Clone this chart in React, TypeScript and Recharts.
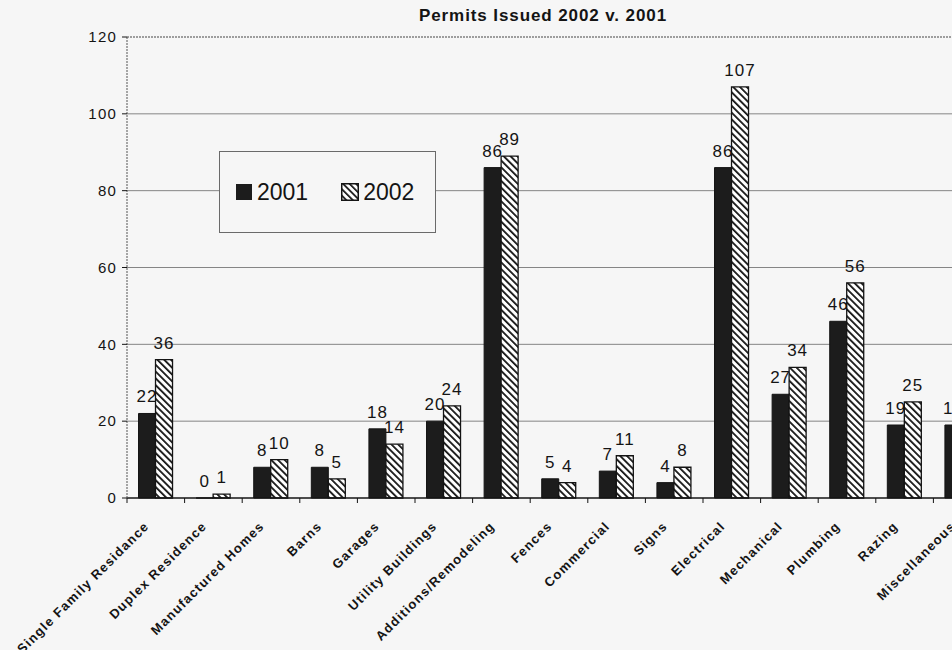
import React from 'react';
import { BarChart, Bar, XAxis, YAxis, CartesianGrid, Legend, LabelList, ReferenceLine } from 'recharts';

// permit counts by category, two years side by side
const categories = [
    'Single Family Residance',
    'Duplex Residence',
    'Manufactured Homes',
    'Barns',
    'Garages',
    'Utility Buildings',
    'Additions/Remodeling',
    'Fences',
    'Commercial',
    'Signs',
    'Electrical',
    'Mechanical',
    'Plumbing',
    'Razing',
    'Miscellaneous',
];
const permits2001 = [22, 0, 8, 8, 18, 20, 86, 5, 7, 4, 86, 27, 46, 19, 19];
const permits2002 = [36, 1, 10, 5, 14, 24, 89, 4, 11, 8, 107, 34, 56, 25, 21];
const yTicks = [0, 20, 40, 60, 80, 100, 120];
const gridValues = [20, 40, 60, 80, 100];

const data = categories.map((name, i) => ({ name, y2001: permits2001[i], y2002: permits2002[i] }));

const CHART_W = 1010;
const CHART_H = 650;
const Y_AXIS_W = 127;
const MARGIN = { top: 37, right: 19, left: 0, bottom: 0 };
const BAND = (CHART_W - MARGIN.left - MARGIN.right - Y_AXIS_W) / categories.length;

const BG = '#f6f6f6';
const INK = '#141414';
const FONT = "'Liberation Sans', Arial, sans-serif";

const CategoryTick = (props: any) => {
    const { x, y, payload } = props;
    const left = x - BAND / 2;
    return (
        <g>
            <line x1={left} y1={y} x2={left} y2={y + 5} stroke={INK} strokeWidth={1} />
            <text
                x={x - 6}
                y={y + 29}
                textAnchor="end"
                transform={`rotate(-45, ${x - 6}, ${y + 29})`}
                fontFamily={FONT}
                fontWeight="bold"
                fontSize={13}
                letterSpacing={1.2}
                fill={INK}
            >
                {payload.value}
            </text>
        </g>
    );
};

// value above a bar
const ValueLabel = (props: any) => {
    const { x, y, width, value } = props;
    return (
        <text x={x + width / 2} y={y - 11} textAnchor="middle" fontFamily={FONT} fontSize={17} letterSpacing={1} fill={INK}>
            {value}
        </text>
    );
};

const HatchSwatch = () => (
    <svg width={18} height={18} style={{ display: 'block' }}>
        <defs>
            <pattern id="hatchSwatch" patternUnits="userSpaceOnUse" width={4.6} height={4.6} patternTransform="rotate(-45)">
                <rect width={4.6} height={4.6} fill="#fff" />
                <rect width={1.7} height={4.6} fill={INK} />
            </pattern>
        </defs>
        <rect x={0.75} y={0.75} width={16.5} height={16.5} fill="url(#hatchSwatch)" stroke={INK} strokeWidth={1.5} />
    </svg>
);

const LegendBox = () => (
    <div
        style={{
            width: 217,
            height: 82,
            boxSizing: 'border-box',
            border: '1px solid #6a6a6a',
            background: BG,
            display: 'flex',
            alignItems: 'center',
            fontFamily: FONT,
            fontSize: 23,
            color: INK,
        }}
    >
        <div style={{ width: 16, height: 16, background: '#1c1c1c', marginLeft: 16, marginRight: 5 }} />
        <span>2001</span>
        <div style={{ marginLeft: 33, marginRight: 4 }}>
            <HatchSwatch />
        </div>
        <span>2002</span>
    </div>
);

const App: React.FC = () => {
    return (
        <div style={{ position: 'fixed', left: 0, top: 0, width: 952, height: 650, overflow: 'hidden', background: BG }}>
            <div
                style={{
                    position: 'absolute',
                    left: 0,
                    top: 6,
                    width: 1086,
                    textAlign: 'center',
                    fontFamily: FONT,
                    fontWeight: 'bold',
                    fontSize: 17,
                    letterSpacing: 0.9,
                    color: INK,
                }}
            >
                Permits Issued 2002 v. 2001
            </div>
            <BarChart
                width={CHART_W}
                height={CHART_H}
                data={data}
                margin={MARGIN}
                barCategoryGap="20%"
                barGap={0}
            >
                <defs>
                    <pattern id="hatch2002" patternUnits="userSpaceOnUse" width={4.8} height={4.8} patternTransform="rotate(-45)">
                        <rect width={4.8} height={4.8} fill="#fff" />
                        <rect width={1.8} height={4.8} fill={INK} />
                    </pattern>
                </defs>
                <CartesianGrid vertical={false} horizontalValues={gridValues} stroke="#858585" strokeWidth={1} />
                <ReferenceLine y={120} stroke="#444" strokeDasharray="2 1" />
                <XAxis
                    dataKey="name"
                    interval={0}
                    height={CHART_H - MARGIN.top - 461}
                    tickSize={0}
                    tickMargin={0}
                    tickLine={false}
                    axisLine={{ stroke: INK, strokeWidth: 1.5 }}
                    tick={<CategoryTick />}
                />
                <YAxis
                    width={Y_AXIS_W}
                    domain={[0, 120]}
                    ticks={yTicks}
                    interval={0}
                    tickSize={5}
                    tickMargin={5}
                    axisLine={{ stroke: '#555', strokeDasharray: '2 1' }}
                    tickLine={{ stroke: INK }}
                    tick={{ fontFamily: FONT, fontSize: 15, fill: INK, letterSpacing: 1.2 }}
                />
                <Legend
                    layout="horizontal"
                    verticalAlign="middle"
                    align="center"
                    wrapperStyle={{ position: 'absolute', left: 219, top: 151, width: 217, height: 82 }}
                    content={<LegendBox />}
                />
                {/* a tiny minPointSize keeps zero-value bars (and their labels) in the layout */}
                <Bar dataKey="y2001" name="2001" fill="#1c1c1c" stroke={INK} strokeWidth={1} minPointSize={0.01} isAnimationActive={false}>
                    <LabelList dataKey="y2001" content={<ValueLabel />} />
                </Bar>
                <Bar dataKey="y2002" name="2002" fill="url(#hatch2002)" stroke={INK} strokeWidth={1.3} isAnimationActive={false}>
                    <LabelList dataKey="y2002" content={<ValueLabel />} />
                </Bar>
            </BarChart>
        </div>
    );
};

export default App;
